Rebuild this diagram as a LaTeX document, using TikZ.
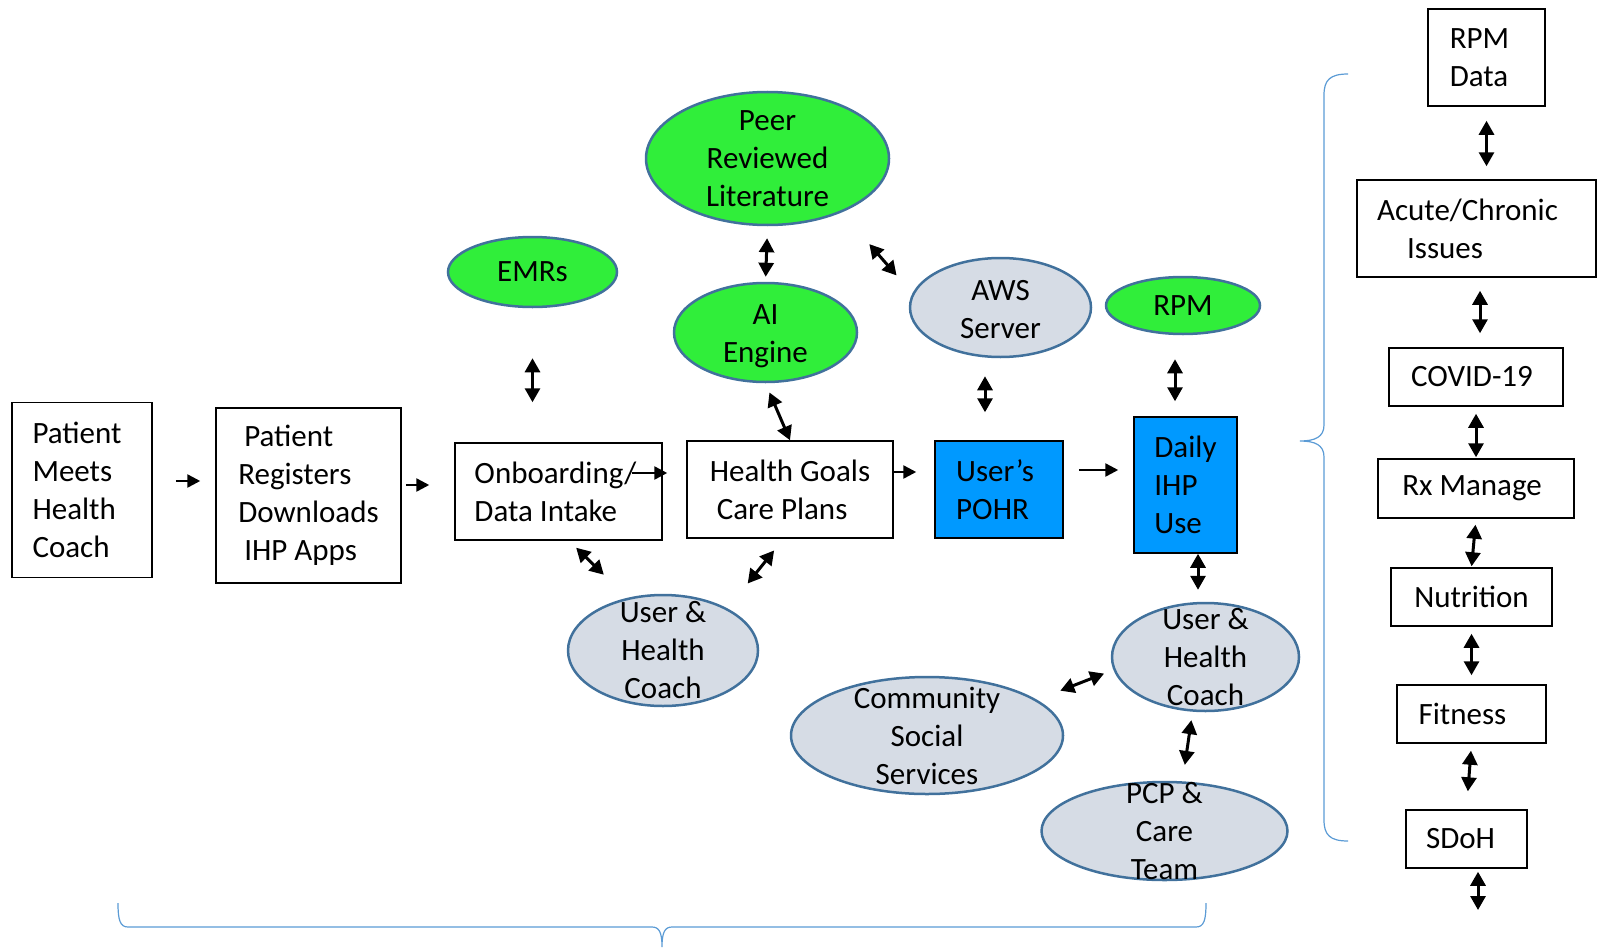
\documentclass[tikz,border=0pt]{standalone}
\usepackage{fontspec}
\setmainfont{Carlito}
\usetikzlibrary{shapes.geometric,arrows.meta}
\definecolor{leafgreen}{RGB}{48,238,58}
\definecolor{rimblue}{HTML}{41719C}
\definecolor{mistgray}{HTML}{D6DCE5}
\definecolor{appblue}{HTML}{0099FF}
\definecolor{bracecol}{HTML}{5B9BD5}

\begin{document}
\begin{tikzpicture}[x=1pt, y=-1pt,
  every node/.style={font=\fontsize{31}{38}\selectfont},
  stepbox/.style={draw, line width=1.5pt, rectangle, inner sep=0pt, align=left},
  bluebox/.style={stepbox, fill=appblue},
  greenell/.style={ellipse, draw=rimblue, line width=2.5pt, fill=leafgreen, inner sep=0pt},
  grayell/.style={greenell, fill=mistgray},
  lbl/.style={align=center, inner sep=0pt},
  fwd/.style={-{Triangle[width=13pt,length=13pt]}, line width=2.5pt},
  both/.style={{Triangle[width=15pt,length=14pt]}-{Triangle[width=15pt,length=14pt]}, line width=3pt},
  brace/.style={draw=bracecol, line width=1.2pt}]
      \useasboundingbox (0,0) rectangle (1597,947);
      % Main flow
      \node[stepbox, minimum width=140pt, minimum height=175pt] (pmhc) at (82,490) {Patient\kern10pt\\Meets\\Health\\Coach};
      \node[stepbox, minimum width=185pt, minimum height=175pt] (preg) at (308.5,495.5)
        {\hspace{6pt}Patient\\Registers\\Downloads\\\hspace{6pt}IHP Apps};
      \node[stepbox, minimum width=207pt, minimum height=97pt] (onb) at (558.5,491.5) {Onboarding/\kern6pt\\Data Intake};
      \node[stepbox, minimum width=206pt, minimum height=97pt] (hgoal) at (790,489.5) {Health Goals\\\hspace{7pt}Care Plans};
      \node[bluebox, minimum width=128pt, minimum height=97pt] (pohr) at (999,489.5) {User’s\kern8pt\\POHR};
      \node[bluebox, minimum width=103pt, minimum height=136pt] (daily) at (1185.5,485) {Daily\\IHP\\Use};
      % Sources above
      \node[greenell, minimum width=243pt, minimum height=133pt] (peer) at (767.5,158.5) {};
      \node[lbl] (peer-t) at (peer) {Peer\\Reviewed\\Literature};
      \node[greenell, minimum width=169pt, minimum height=70pt] (emrs) at (532.5,272) {};
      \node[lbl] (emrs-t) at (emrs) {EMRs};
      \node[greenell, minimum width=183pt, minimum height=99pt] (ai) at (765.5,332.5) {};
      \node[lbl] (ai-t) at ([yshift=-4pt]ai) {AI\\Engine};
      \node[grayell, minimum width=181pt, minimum height=99pt] (aws) at (1000.5,307.5) {};
      \node[lbl] (aws-t) at ([yshift=-2pt]aws) {AWS\\Server};
      \node[greenell, minimum width=154pt, minimum height=57pt] (rpm) at (1183,305.5) {};
      \node[lbl] (rpm-t) at (rpm) {RPM};
      % People below
      \node[grayell, minimum width=190pt, minimum height=111pt] (uhc1) at (663,650.5) {};
      \node[lbl] (uhc1-t) at (uhc1) {User \&\\Health\\Coach};
      \node[grayell, minimum width=187pt, minimum height=108pt] (uhc2) at (1205.5,657) {};
      \node[lbl] (uhc2-t) at (uhc2) {User \&\\Health\\Coach};
      \node[grayell, minimum width=272pt, minimum height=117pt] (comm) at (927,735.5) {};
      \node[lbl] (comm-t) at (comm) {Community\\Social\\Services};
      \node[grayell, minimum width=246pt, minimum height=98pt] (pcp) at (1164.5,831) {};
      \node[lbl] (pcp-t) at (pcp) {PCP \&\\Care\\Team};
      % Right column
      \node[stepbox, minimum width=117pt, minimum height=97pt] (rpmd) at (1486.5,57.5) {RPM\kern14pt\\Data};
      \node[stepbox, minimum width=239pt, minimum height=97pt] (acute) at (1476.5,228.5) {Acute/Chronic\kern18pt\\\hspace{30pt}Issues};
      \node[stepbox, minimum width=174pt, minimum height=58pt] (covid) at (1476,377) {COVID-19\hspace{8pt}};
      \node[stepbox, minimum width=196pt, minimum height=59pt] (rxm) at (1476,488.5) {Rx Manage\hspace{8pt}};
      \node[stepbox, minimum width=161pt, minimum height=58pt] (nutr) at (1471.5,597) {Nutrition};
      \node[stepbox, minimum width=149pt, minimum height=58pt] (fit) at (1471.5,714) {Fitness\hspace{18pt}};
      \node[stepbox, minimum width=121pt, minimum height=58pt] (sdoh) at (1466.5,839) {SDoH\hspace{12pt}};
      \coordinate (sdohlink) at (1478,910);
      % Arrows along the flow
      \draw[fwd, shorten <=23pt, shorten >=15pt] ([yshift=9pt]pmhc.east) -- ([yshift=9pt]pmhc.east -| preg.west);
      \draw[fwd, shorten <=4pt, shorten >=25pt] ([yshift=10.5pt]preg.east) -- ([yshift=10.5pt]preg.east -| onb.west);
      \draw[fwd, shorten >=19pt] ([xshift=-31pt, yshift=18.5pt]onb.east) -- ([yshift=18.5pt]onb.east -| hgoal.west);
      \draw[fwd, shorten >=18pt] ([yshift=17.5pt]hgoal.east) -- ([yshift=17.5pt]hgoal.east -| pohr.west);
      \draw[fwd, shorten <=15pt, shorten >=15pt] ([yshift=19.5pt]pohr.east) -- ([yshift=19.5pt]pohr.east -| daily.west);
      % Two-way links
      \draw[both, shorten <=50pt, shorten >=40pt] (emrs.south) -- (emrs.south |- onb.north);
      \draw[both, shorten <=12pt, shorten >=5pt] (peer.south) -- (ai.north);
      \draw[both, shorten <=42pt, shorten >=24pt] (peer.-36) -- (aws.171);
      \draw[both, shorten <=10pt] (ai.south) -- (hgoal.north);
      \draw[both, shorten <=18pt, shorten >=28pt] ([xshift=-15.5pt]aws.south) -- ([xshift=-15.5pt]aws.south |- pohr.north);
      \draw[both, shorten <=24pt, shorten >=15pt] ([xshift=-8pt]rpm.south) -- ([xshift=-8pt]rpm.south |- daily.north);
      \draw[both, shorten >=12pt] ([xshift=12.5pt]daily.south) -- ([xshift=12.5pt]daily.south |- uhc2.north);
      \draw[both, shorten <=10pt, shorten >=33pt] ([xshift=10.5pt]onb.south) -- (uhc1.124);
      \draw[both, shorten <=15pt, shorten >=32pt] ([xshift=-6.5pt]hgoal.south) -- (uhc1.33);
      \draw[both, shorten <=10pt, shorten >=25pt] (uhc2.188) -- (comm.18);
      \draw[both, shorten <=8pt, shorten >=16pt] ([xshift=-13pt]uhc2.south) -- ([xshift=18pt]pcp.north);
      % Right column links
      \draw[both, shorten <=14pt, shorten >=13pt] (rpmd.south) -- (rpmd.south |- acute.north);
      \draw[both, shorten <=13pt, shorten >=14pt] ([xshift=3.5pt]acute.south) -- ([xshift=3.5pt]acute.south |- covid.north);
      \draw[both, shorten <=7pt, shorten >=1pt] (covid.south) -- (rxm.north);
      \draw[both, shorten <=6pt, shorten >=1pt] (rxm.south) -- (nutr.north);
      \draw[both, shorten <=7pt, shorten >=9pt] (nutr.south) -- (fit.north);
      \draw[both, shorten <=7pt, shorten >=18pt] (fit.south) -- (sdoh.north);
      \draw[both, shorten <=3pt] ([xshift=11.5pt]sdoh.south) -- (sdohlink);
      % Braces
      \draw[brace] (1348,74) .. controls (1330,74) and (1324,80) .. (1324,95) -- (1324,425)
        .. controls (1324,437) and (1315,441) .. (1300,441)
        .. controls (1315,441) and (1324,445) .. (1324,457) -- (1324,820)
        .. controls (1324,835) and (1330,841) .. (1348,841);
      \draw[brace] (118,903) .. controls (118,920) and (120,927) .. (128,927) -- (652,927)
        .. controls (659,927) and (662,932) .. (662,947)
        .. controls (662,932) and (665,927) .. (672,927) -- (1196,927)
        .. controls (1204,927) and (1206,920) .. (1206,903);
\end{tikzpicture}
\end{document}
